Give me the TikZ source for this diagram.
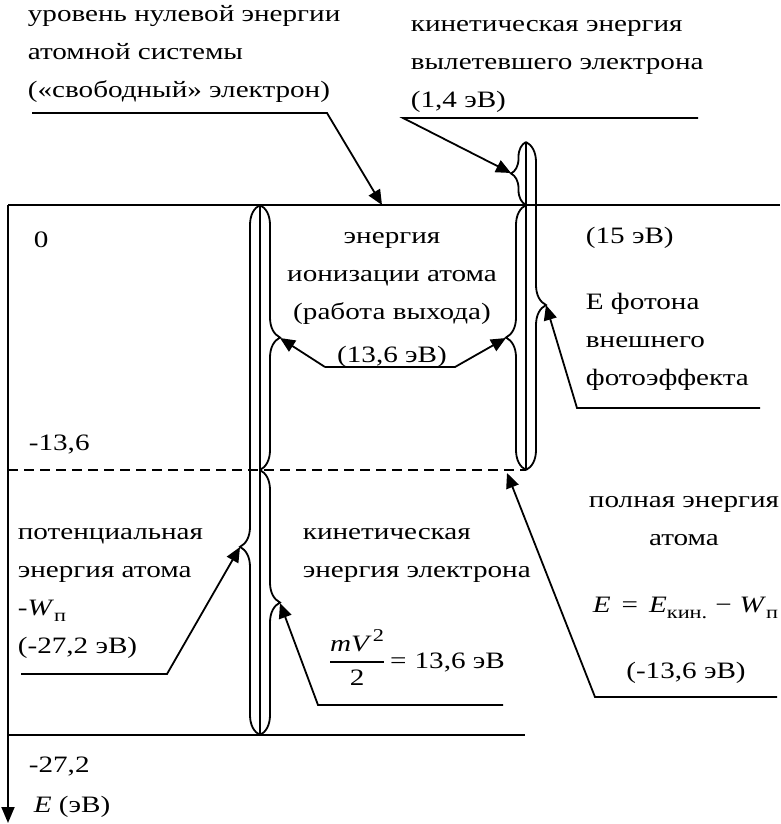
\documentclass[tikz,border=0pt]{standalone}
\usepackage{amsmath}
\usepackage{fontspec}
\setmainfont{Liberation Serif}[FakeStretch=1.24]
\usepackage{tikz}
\usetikzlibrary{arrows.meta}
\usetikzlibrary{decorations.pathreplacing}

\newcommand{\lowidx}[1]{\raisebox{-6pt}{\fontsize{18}{18}\selectfont #1}}
\newcommand{\highidx}[1]{\raisebox{10pt}{\fontsize{18}{18}\selectfont\upshape #1}}

\tikzset{
  lbl/.style={inner sep=0pt, font=\fontsize{23.5}{38}\selectfont},
  ptr/.style={-{Triangle[length=15pt, width=13pt]}},
  brc/.style={decorate, decoration={brace, amplitude=20pt, aspect=#1}},
}

\begin{document}
\begin{tikzpicture}[x=1pt, y=-1pt, line width=1.8pt]
    \useasboundingbox (0,0) rectangle (781,824);

    % Energy axis and levels
    \coordinate (axtop) at (8,205);
    \coordinate (axend) at (8,823);
    \coordinate (zeroend) at (780,205);
    \coordinate (midstart) at (8,470);
    \coordinate (midend) at (526,470);
    \coordinate (lowstart) at (8,735);
    \coordinate (lowend) at (525,735);
    \draw[-{Triangle[length=16pt, width=13pt]}] (axtop) -- (axend);
    \draw (axtop) -- (zeroend);
    \draw[dash pattern=on 10pt off 6pt] (midstart) -- (midend);
    \draw (lowstart) -- (lowend);

    % Braces of the bound electron
    \coordinate (atop) at (260,205);
    \coordinate (amid) at (260,470);
    \coordinate (abot) at (260,735);
    \draw (atop) -- (abot);
    \draw[brc=0.355] (abot) -- (atop);
    \draw[brc=0.5] (atop) -- (amid);
    \draw[brc=0.5] (amid) -- (abot);
    \coordinate (pottip) at (240,547);
    \coordinate (iontipl) at (280,338);
    \coordinate (kintip) at (280,603);

    % Braces of the photon energy
    \coordinate (btop) at (526,142);
    \coordinate (bzero) at (526,205);
    \coordinate (bbot) at (526,470);
    \draw (btop) -- (bbot);
    \draw[decorate, decoration={brace, amplitude=15pt}] (bzero) -- (btop);
    \draw[brc=0.5] (bbot) -- (bzero);
    \draw[brc=0.497] (btop) -- (bbot);
    \coordinate (outtip) at (511,173);
    \coordinate (iontipr) at (506,338);
    \coordinate (photip) at (546,305);

    % Labels (multi-line nodes sit on their last line)
    \node[lbl, anchor=base west, align=left] (zerolbl) at (27,98) {уровень нулевой энергии\\атомной системы\\(«свободный» электрон)};
    \node[lbl, anchor=base west, align=left] (outlbl) at (410,108) {кинетическая энергия\\вылетевшего электрона\\(1,4 эВ)};
    \node[lbl, anchor=base west] (zeroval) at (33,247) {0};
    \node[lbl, anchor=base west] (midval) at (28,450) {-13,6};
    \node[lbl, anchor=base west] (lowval) at (28,772) {-27,2};
    \node[lbl, anchor=base west] (axlbl) at (33,812) {\textit{E} (эВ)};
    \node[lbl, anchor=base, align=center] (ionlbl) at (392,362) {энергия\\ионизации атома\\(работа выхода)\\[5pt](13,6 эВ)};
    \node[lbl, anchor=base west] (pho15) at (585,243) {(15 эВ)};
    \node[lbl, anchor=base west, align=left] (pholbl) at (585,385) {Е фотона\\внешнего\\фотоэффекта};
    \node[lbl, anchor=base, align=center] (fulllbl) at (684,545) {полная энергия\\атома};
    \node[lbl, anchor=base west] (fullfml) at (592,612) {\textit{E}\hspace{11pt}=\hspace{11pt}\textit{E}\lowidx{кин.}\hspace{8pt}−\hspace{8pt}\textit{W}\lowidx{п}};
    \node[lbl, anchor=base] (fullval) at (686,678) {(-13,6 эВ)};
    \node[lbl, anchor=base west, align=left] (potlbl) at (17,653) {потенциальная\\энергия атома\\-\textit{W}\lowidx{п}\\(-27,2 эВ)};
    \node[lbl, anchor=base west, align=left] (kinlbl) at (302,577) {кинетическая\\энергия электрона};
    \node[lbl, anchor=base west] (kinfml) at (328,668) {$\genfrac{}{}{1.6pt}{0}{\text{\itshape mV\,\highidx{2}}}{\text{2}}$\hspace{5pt}=\hspace{8pt}13,6 эВ};

    % Leaders
    \coordinate (zeroa) at (32,113);
    \coordinate (zerob) at (327,113);
    \coordinate (zerotip) at (382,205);
    \draw[ptr] (zeroa) -- (zerob) -- (zerotip);
    \coordinate (outa) at (698,118);
    \coordinate (outb) at (403,118);
    \draw[ptr] (outa) -- (outb) -- (outtip);
    \coordinate (iona) at (325,367);
    \coordinate (ionb) at (455,367);
    \draw[ptr] (iona) -- (iontipl);
    \draw[ptr] (iona) -- (ionb) -- (iontipr);
    \coordinate (phoa) at (760,408);
    \coordinate (phob) at (577,408);
    \draw[ptr] (phoa) -- (phob) -- (photip);
    \coordinate (fulla) at (777,697);
    \coordinate (fullb) at (595,697);
    \coordinate (fulltip) at (507,473);
    \draw[ptr] (fulla) -- (fullb) -- (fulltip);
    \coordinate (pota) at (21,674);
    \coordinate (potb) at (167,674);
    \draw[ptr] (pota) -- (potb) -- (pottip);
    \coordinate (kina) at (503,705);
    \coordinate (kinb) at (318,705);
    \draw[ptr] (kina) -- (kinb) -- (kintip);
\end{tikzpicture}
\end{document}
